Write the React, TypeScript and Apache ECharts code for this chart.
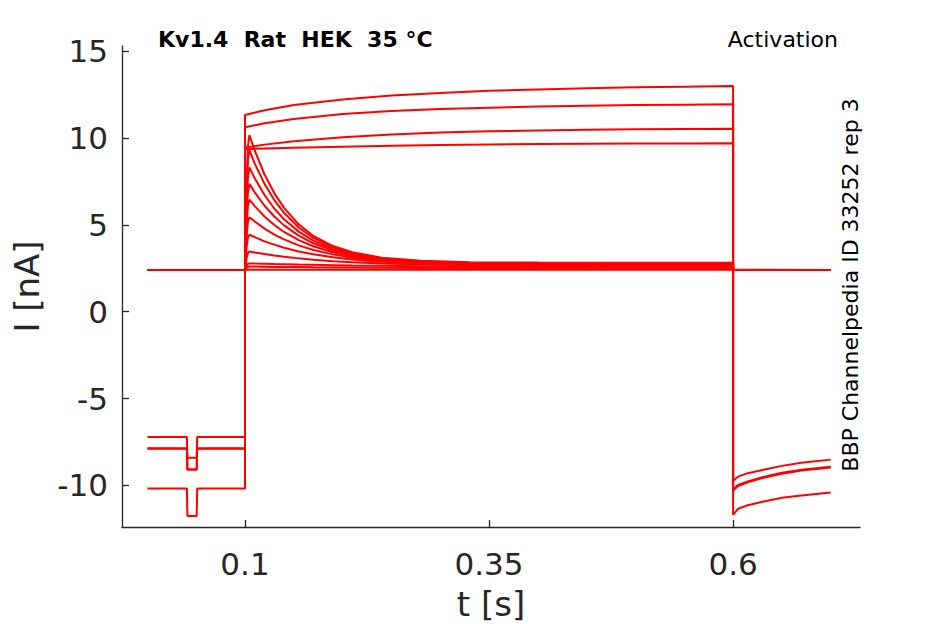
import React, { useEffect, useRef } from "react";
import * as echarts from "echarts";

// ---- x / y tick labels ----
const xTicks = [0.1, 0.35, 0.6];
const yTicks = [-10, -5, 0, 5, 10, 15];

// ---- sustained traces (leak-dominated sweeps) ----
const preDipT = [0, 0.0405, 0.041, 0.0505, 0.051, 0.1];
const stepT = [0.1, 0.12, 0.15, 0.2, 0.25, 0.3, 0.35, 0.4, 0.45, 0.5, 0.55, 0.6];
const tailT = [0.6, 0.605, 0.615, 0.63, 0.65, 0.67, 0.7];

const preLevels = [-10.19, -7.86, -7.9, -7.22];
const dipLevels = [-11.76, -9.08, -9.1, -8.41];

const sust1 = [11.33, 11.6, 11.9, 12.22, 12.45, 12.6, 12.72, 12.8, 12.87, 12.92, 12.96, 12.99];
const sust2 = [10.62, 10.85, 11.1, 11.38, 11.55, 11.67, 11.75, 11.81, 11.86, 11.9, 11.92, 11.94];
const sust3 = [9.45, 9.62, 9.82, 10.04, 10.2, 10.32, 10.39, 10.44, 10.48, 10.5, 10.52, 10.53];
const sust4 = [9.36, 9.4, 9.44, 9.5, 9.56, 9.6, 9.63, 9.65, 9.67, 9.68, 9.69, 9.7];

const tail1 = [-11.7, -11.35, -11.15, -10.95, -10.72, -10.58, -10.42];
const tail2 = [-10.25, -9.98, -9.78, -9.53, -9.28, -9.1, -8.93];
const tail3 = [-10.32, -10.04, -9.83, -9.58, -9.33, -9.15, -8.98];
const tail4 = [-9.75, -9.5, -9.3, -9.12, -8.88, -8.7, -8.52];

// ---- inactivating traces ----
const baseT = [0, 0.1];
const postT = [0.6, 0.7];
const baseline = 2.4;
const inactT = [0.1, 0.1015, 0.103, 0.1045, 0.11, 0.12, 0.13, 0.14, 0.155, 0.17, 0.19, 0.21, 0.24, 0.28, 0.33, 0.4, 0.5, 0.6];

const inact1 = [2.4, 7.06, 9.55, 10.17, 9.27, 7.9, 6.83, 5.98, 5.03, 4.36, 3.78, 3.42, 3.11, 2.93, 2.85, 2.83, 2.82, 2.82];
const inact2 = [2.4, 6.54, 8.75, 9.3, 8.53, 7.36, 6.43, 5.69, 4.85, 4.25, 3.71, 3.37, 3.08, 2.9, 2.82, 2.79, 2.78, 2.78];
const inact3 = [2.4, 5.95, 7.72, 8.31, 7.68, 6.72, 5.94, 5.32, 4.61, 4.09, 3.62, 3.31, 3.04, 2.87, 2.79, 2.76, 2.75, 2.75];
const inact4 = [2.4, 5.38, 6.86, 7.36, 6.87, 6.1, 5.48, 4.97, 4.38, 3.94, 3.53, 3.26, 3.01, 2.85, 2.77, 2.73, 2.72, 2.72];
const inact5 = [2.4, 4.83, 6.13, 6.45, 6.08, 5.48, 4.99, 4.59, 4.12, 3.77, 3.42, 3.19, 2.98, 2.83, 2.75, 2.71, 2.7, 2.7];
const inact6 = [2.4, 4.22, 5.2, 5.44, 5.19, 4.78, 4.44, 4.16, 3.82, 3.55, 3.3, 3.11, 2.94, 2.81, 2.73, 2.69, 2.68, 2.68];
const inact7 = [2.4, 3.62, 4.27, 4.43, 4.29, 4.05, 3.86, 3.68, 3.47, 3.31, 3.13, 3.01, 2.88, 2.78, 2.71, 2.68, 2.66, 2.66];
const inact8 = [2.4, 3.04, 3.38, 3.47, 3.41, 3.32, 3.24, 3.17, 3.07, 2.99, 2.91, 2.85, 2.78, 2.71, 2.67, 2.64, 2.62, 2.62];
const inact9 = [2.4, 2.63, 2.75, 2.78, 2.77, 2.76, 2.74, 2.73, 2.71, 2.7, 2.68, 2.66, 2.64, 2.62, 2.6, 2.59, 2.58, 2.58];
const inact10 = [2.4, 2.52, 2.57, 2.6, 2.6, 2.59, 2.58, 2.58, 2.57, 2.56, 2.55, 2.54, 2.53, 2.52, 2.52, 2.51, 2.5, 2.5];
const inact11 = [2.4, 2.42, 2.42, 2.42, 2.42, 2.42, 2.42, 2.42, 2.42, 2.42, 2.42, 2.42, 2.42, 2.42, 2.42, 2.42, 2.42, 2.42];

const FONT = "DejaVu Sans";
const RED = "#ff0000";
const AXIS = "#262626";

function sustainedData(pre: number, dip: number, step: number[], tail: number[]) {
  const preVals = [pre, pre, dip, dip, pre, pre];
  return [
    ...preDipT.map((t, i) => [t, preVals[i]]),
    ...stepT.map((t, i) => [t, step[i]]),
    ...tailT.map((t, i) => [t, tail[i]]),
  ];
}

function inactData(vals: number[]) {
  return [
    ...baseT.map((t) => [t, baseline]),
    ...inactT.map((t, i) => [t, vals[i]]),
    ...postT.map((t) => [t, baseline]),
  ];
}

export default function App() {
  const ref = useRef<HTMLDivElement>(null);
  useEffect(() => {
    document.body.style.margin = "0";
    if (!ref.current) return;
    const chart = echarts.init(ref.current, undefined, { renderer: "svg" });

    const sust = [
      sustainedData(preLevels[0], dipLevels[0], sust1, tail1),
      sustainedData(preLevels[1], dipLevels[1], sust2, tail2),
      sustainedData(preLevels[2], dipLevels[2], sust3, tail3),
      sustainedData(preLevels[3], dipLevels[3], sust4, tail4),
    ];
    const inact = [inact1, inact2, inact3, inact4, inact5, inact6, inact7, inact8, inact9, inact10, inact11].map(inactData);

    const lineSeries = (data: number[][]) => ({
      type: "line",
      data,
      showSymbol: false,
      symbol: "none",
      lineStyle: { color: RED, width: 2 },
      itemStyle: { color: RED },
      silent: true,
    });

    chart.setOption({
      animation: false,
      backgroundColor: "#ffffff",
      grid: { left: 122, right: 85, top: 46, bottom: 97, containLabel: false, outerBoundsMode: "none" },
      xAxis: {
        type: "value",
        min: -0.026,
        max: 0.73,
        name: "t [s]",
        nameLocation: "middle",
        nameGap: 60,
        nameTextStyle: { fontFamily: FONT, fontSize: 34, color: AXIS },
        axisLine: { show: true, onZero: false, lineStyle: { color: AXIS, width: 1.3 } },
        axisTick: { show: true, inside: true, length: 7, customValues: xTicks, lineStyle: { color: AXIS, width: 1.3 } },
        axisLabel: {
          show: true,
          customValues: xTicks,
          fontFamily: FONT,
          fontSize: 31,
          color: AXIS,
          margin: 21,
          formatter: (v: number) => String(v),
        },
        splitLine: { show: false },
      },
      yAxis: {
        type: "value",
        min: -12.4,
        max: 15.3,
        name: "I [nA]",
        nameLocation: "middle",
        nameGap: 78,
        nameRotate: 90,
        nameTextStyle: { fontFamily: FONT, fontSize: 34, color: AXIS },
        axisLine: { show: true, onZero: false, lineStyle: { color: AXIS, width: 1.3 } },
        axisTick: { show: true, inside: true, length: 7, customValues: yTicks, lineStyle: { color: AXIS, width: 1.3 } },
        axisLabel: {
          show: true,
          customValues: yTicks,
          fontFamily: FONT,
          fontSize: 31,
          color: AXIS,
          margin: 14,
          formatter: (v: number) => String(v),
        },
        splitLine: { show: false },
      },
      graphic: [
        {
          type: "text",
          left: 158,
          top: 28,
          style: { text: "Kv1.4  Rat  HEK  35 °C", font: `bold 22px ${FONT}`, fill: "#000" },
        },
        {
          type: "text",
          right: 107,
          top: 28,
          style: { text: "Activation", font: `22px ${FONT}`, fill: "#000" },
        },
        {
          type: "text",
          x: 850,
          y: 285,
          rotation: Math.PI / 2,
          style: {
            text: "BBP Channelpedia ID 33252 rep 3",
            font: `22px ${FONT}`,
            fill: "#000",
            align: "center",
            verticalAlign: "middle",
          },
        },
      ],
      series: [...sust.map(lineSeries), ...inact.map(lineSeries)],
    });
    return () => chart.dispose();
  }, []);
  return <div ref={ref} style={{ width: 945, height: 624 }} />;
}
